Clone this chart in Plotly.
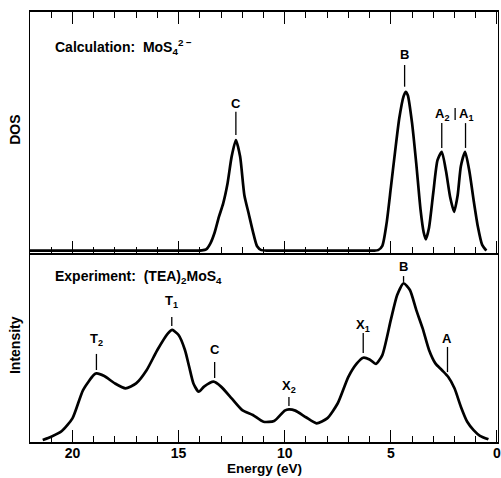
import plotly.graph_objects as go

# Calculated DOS (MoS4 2-): energy (eV) and relative DOS
calc_energy = [22.0, 20.0, 18.0, 16.0, 14.6, 14.2, 13.9, 13.7, 13.5, 13.3, 13.1, 12.9, 12.7, 12.5, 12.3,
               12.1, 11.9, 11.7, 11.5, 11.3, 11.1, 10.8, 10.0, 9.0, 8.0, 7.0, 6.2, 5.8,
               5.6, 5.4, 5.2, 5.0, 4.8, 4.6, 4.4, 4.3, 4.2, 4.0, 3.8, 3.6, 3.45, 3.35,
               3.2, 3.0, 2.8, 2.6, 2.4, 2.2, 2.02, 1.85, 1.7, 1.5, 1.3, 1.1, 0.9, 0.7, 0.5]
calc_dos = [0.01, 0.01, 0.01, 0.01, 0.01, 0.01, 0.011, 0.015, 0.04, 0.085, 0.15, 0.205, 0.285, 0.40, 0.469,
            0.40, 0.24, 0.165, 0.09, 0.028, 0.012, 0.01, 0.01, 0.01, 0.01, 0.01, 0.01, 0.01,
            0.012, 0.03, 0.123, 0.27, 0.42, 0.56, 0.65, 0.669, 0.655, 0.54, 0.37, 0.18, 0.085, 0.057,
            0.105, 0.25, 0.385, 0.42, 0.34, 0.23, 0.171, 0.24, 0.36, 0.42, 0.34, 0.22, 0.11, 0.035, 0.01]

# Experimental spectrum ((TEA)2MoS4): energy (eV) and relative intensity
exp_energy = [21.4, 21.0, 20.5, 20.0, 19.5, 19.0, 18.87, 18.5, 18.0, 17.5, 17.0, 16.5, 16.0, 15.5, 15.3,
              15.0, 14.7, 14.5, 14.3, 14.05, 13.8, 13.35, 13.0, 12.5, 12.0, 11.5, 11.0, 10.5, 10.0, 9.8,
              9.5, 9.0, 8.5, 8.0, 7.5, 7.0, 6.6, 6.3, 6.0, 5.7, 5.4, 5.0, 4.7, 4.4, 4.1, 3.8, 3.5, 3.2,
              2.9, 2.6, 2.3, 2.0, 1.7, 1.4, 1.1, 0.8, 0.4]
exp_int = [0.011, 0.028, 0.058, 0.125, 0.275, 0.354, 0.363, 0.349, 0.31, 0.284, 0.31, 0.381, 0.487, 0.575, 0.593,
           0.566, 0.487, 0.398, 0.31, 0.266, 0.293, 0.319, 0.293, 0.231, 0.169, 0.143, 0.107, 0.111, 0.166, 0.173,
           0.166, 0.131, 0.099, 0.125, 0.205, 0.345, 0.416, 0.446, 0.437, 0.413, 0.46, 0.646, 0.778, 0.840, 0.804,
           0.698, 0.601, 0.487, 0.416, 0.381, 0.345, 0.284, 0.187, 0.107, 0.063, 0.033, 0.014]

x_ticks = [20, 15, 10, 5, 0]
x_tick_text = ["20", "15", "10", "5", "0"]

# Peak labels: (text, energy, label y, marker-line y0, marker-line y1)
calc_labels = [("C", 12.3, 0.622, 0.49, 0.586), ("B", 4.35, 0.822, 0.69, 0.78),
               ("A<sub>2</sub>", 2.6, 0.573, 0.436, 0.539), ("A<sub>1</sub>", 1.48, 0.573, 0.436, 0.539)]
exp_labels = [("T<sub>2</sub>", 18.87, 0.540, 0.381, 0.466), ("T<sub>1</sub>", 15.32, 0.741, 0.614, 0.661),
              ("C", 13.3, 0.487, 0.339, 0.423), ("X<sub>2</sub>", 9.8, 0.296, 0.190, 0.238),
              ("X<sub>1</sub>", 6.3, 0.619, 0.471, 0.577), ("B", 4.4, 0.926, 0.847, 0.878),
              ("A", 2.33, 0.550, 0.370, 0.503)]

FONT = "Liberation Sans"
fig = go.Figure()
fig.add_trace(go.Scatter(x=calc_energy, y=calc_dos, mode="lines", xaxis="x2", yaxis="y2",
                         line=dict(color="black", width=2.7, shape="spline", smoothing=0.6),
                         showlegend=False, hoverinfo="skip"))
fig.add_trace(go.Scatter(x=exp_energy, y=exp_int, mode="lines", xaxis="x", yaxis="y",
                         line=dict(color="black", width=2.7, shape="spline", smoothing=0.6),
                         showlegend=False, hoverinfo="skip"))

ann = []
shapes = []
for txt, e, ly, y0, y1 in calc_labels:
    ann.append(dict(text="<b>%s</b>" % txt, x=e, y=ly, xref="x2", yref="y2", showarrow=False,
                    font=dict(size=13, family=FONT, color="black")))
    shapes.append(dict(type="line", x0=e, x1=e, y0=y0, y1=y1, xref="x2", yref="y2",
                       line=dict(color="black", width=1.3)))
shapes.append(dict(type="line", x0=1.97, x1=1.97, y0=0.552, y1=0.602, xref="x2", yref="y2",
                   line=dict(color="black", width=1.3)))
for txt, e, ly, y0, y1 in exp_labels:
    ann.append(dict(text="<b>%s</b>" % txt, x=e, y=ly, xref="x", yref="y", showarrow=False,
                    font=dict(size=13, family=FONT, color="black")))
    shapes.append(dict(type="line", x0=e, x1=e, y0=y0, y1=y1, xref="x", yref="y",
                       line=dict(color="black", width=1.3)))

ann.append(dict(text="<b>Calculation:  MoS<sub>4</sub><sup>2 \u2212</sup></b>", x=20.9, y=0.855, xref="x2", yref="y2",
                xanchor="left", yanchor="middle", showarrow=False,
                font=dict(size=14, family=FONT, color="black")))
ann.append(dict(text="<b>Experiment:  (TEA)<sub>2</sub>MoS<sub>4</sub></b>", x=20.9, y=0.873, xref="x", yref="y",
                xanchor="left", yanchor="middle", showarrow=False,
                font=dict(size=14, family=FONT, color="black")))

ann.append(dict(text="<b>DOS</b>", x=-0.032, y=0.726, xref="paper", yref="paper", textangle=-90,
                xanchor="center", yanchor="middle", showarrow=False,
                font=dict(size=14, family=FONT, color="black")))
ann.append(dict(text="<b>Intensity</b>", x=-0.032, y=0.2256, xref="paper", yref="paper", textangle=-90,
                xanchor="center", yanchor="middle", showarrow=False,
                font=dict(size=14, family=FONT, color="black")))
ann.append(dict(text="<b>Energy (eV)</b>", x=0.502, y=-0.061, xref="paper", yref="paper",
                xanchor="center", yanchor="middle", showarrow=False,
                font=dict(size=13.5, family=FONT, color="black")))

split = 0.4395
common_x = dict(range=[22, -0.05], tickmode="array", tickvals=x_ticks, ticktext=x_tick_text,
                ticks="inside", ticklen=12, tickwidth=1.3, tickcolor="black", automargin=False,
                minor=dict(dtick=1, tick0=0, ticks="inside", ticklen=6, tickwidth=1.2, tickcolor="black"),
                showline=True, linewidth=2, linecolor="black", showgrid=False, zeroline=False)
fig.update_layout(
    width=501, height=478,
    margin=dict(l=30, r=3, t=12, b=36, autoexpand=False),
    paper_bgcolor="white", plot_bgcolor="white",
    xaxis=dict(**common_x, anchor="y", domain=[0, 1], ticklabelstandoff=-3, ticklabeloverflow="allow",
               tickfont=dict(size=14, family=FONT, color="black", weight="bold")),
    xaxis2=dict(**common_x, anchor="y2", matches="x", mirror="ticks", showticklabels=False),
    yaxis=dict(domain=[0, split], range=[0, 1], showline=True, linewidth=1.3, linecolor="black",
               mirror=True, showticklabels=False, ticks="", showgrid=False, zeroline=False, automargin=False),
    yaxis2=dict(domain=[split, 1], range=[0, 1], showline=True, linewidth=1.3, linecolor="black",
                mirror=True, showticklabels=False, ticks="", showgrid=False, zeroline=False, automargin=False),
    annotations=ann, shapes=shapes,
)
fig.write_html("out.html", config={"displayModeBar": False},
               post_script="document.body.style.margin='0px';document.body.style.overflow='hidden';")
